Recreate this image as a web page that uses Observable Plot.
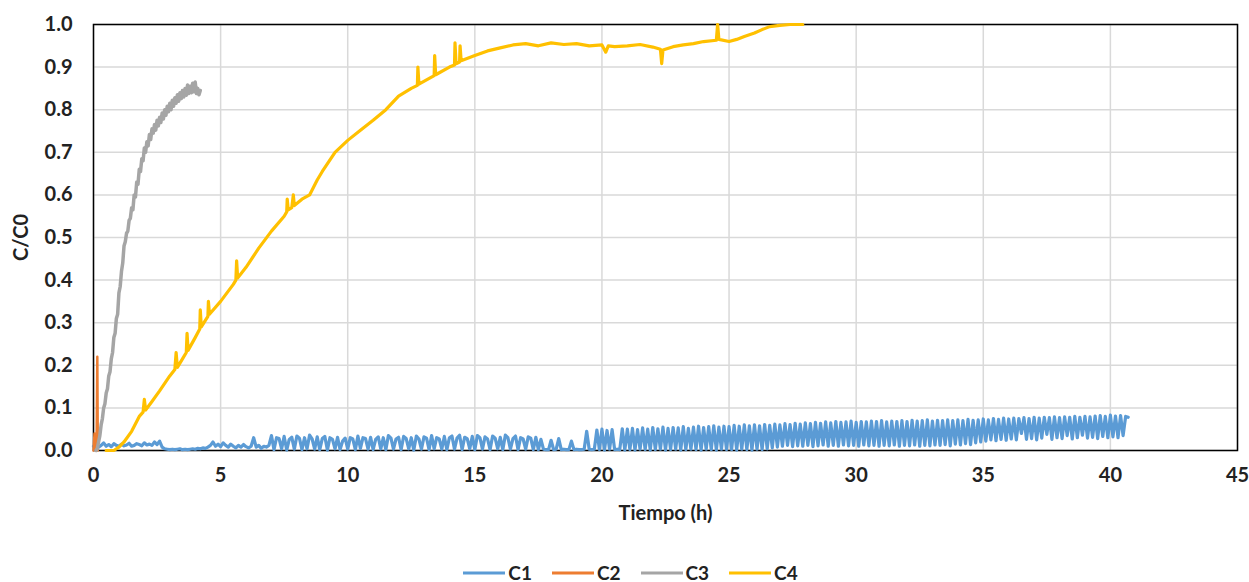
<!DOCTYPE html>
<html>
<head>
<meta charset="utf-8">
<script src="https://cdn.jsdelivr.net/npm/d3@7"></script>
<script src="https://cdn.jsdelivr.net/npm/@observablehq/plot@0.6"></script>
<style>
  html, body { margin: 0; background: #fff; font-family: Lato, "Open Sans", sans-serif; overflow: hidden; }
  #chart svg { display: block; }
  #legend { display: flex; justify-content: center; align-items: center; height: 18px; line-height: 18px; margin-top: 14px; padding-left: 12px; font-weight: bold; font-size: 19px; color: #222; }
  .item { display: flex; align-items: center; margin: 0 10px; }
  .item svg { margin-right: 3px; }
</style>
</head>
<body>
<div id="chart"></div>
<div id="legend"></div>
<script>
const seriesNames = ["C1", "C2", "C3", "C4"];
const seriesColors = ["#5B9BD5", "#ED7D31", "#A5A5A5", "#FFC000"];
const xTicks = [0, 5, 10, 15, 20, 25, 30, 35, 40, 45];
const yTicks = [0, 0.1, 0.2, 0.3, 0.4, 0.5, 0.6, 0.7, 0.8, 0.9, 1.0];

// C1: sampled every 0.1 h from 0 h
const c1Start = 0, c1Step = 0.1;
const c1Values = [
  0.01,0.015,0.008,0.012,0.018,0.01,0.014,0.009,0.016,0.012,
  0.01,0.015,0.011,0.013,0.017,0.01,0.012,0.016,0.014,0.011,
  0.018,0.013,0.015,0.012,0.02,0.014,
  0.022,0.008,0.004,0.003,0.002,0.003,0.002,0.003,0.004,0.002,0.003,0.002,0.003,0.004,0.003,0.005,0.004,0.006,0.005,
  0.008,0.012,0.02,0.01,0.015,
  0.009,0.018,0.012,0.008,0.015,0.01,0.006,0.012,0.008,0.014,
  0.009,0.006,0.01,0.03,0.008,0.012,0.005,0.01,0.008,0.012,
  0.035,0.002,0.03,0.028,0.004,0.033,0.001,0.026,0.031,0.003,
  0.034,0.029,0.002,0.03,0.004,0.036,0.027,0.003,0.032,0.002,
  0.028,0.033,0.001,0.03,0.026,0.004,0.031,0.002,0.022,0.029,
  0.003,0.03,0.027,0.002,0.034,0.005,0.03,0.028,0.003,0.031,
  0.002,0.026,0.032,0.004,0.03,0.002,0.035,0.029,0.003,0.027,
  0.031,0.002,0.033,0.028,0.004,0.03,0.001,0.034,0.027,0.003,
  0.032,0.029,0.002,0.035,0.004,0.03,0.027,0.003,0.033,0.002,
  0.03,0.034,0.003,0.029,0.036,0.002,0.031,0.028,0.004,0.033,
  0.002,0.035,0.03,0.003,0.032,0.027,0.002,0.034,0.029,0.004,
  0.031,0.002,0.036,0.03,0.003,0.028,0.034,0.002,0.03,0.027,
  0.003,0.032,0.029,0.002,0.031,
  0.002,0.026,0.003,0.002,0.002,
  0.024,0.002,0.003,0.028,0.002,0.003,0.002,0.002,0.022,0.002,
  0.003,0.002,0.002,0.003,0.045,0.003,0.002,0.003,
  0.048,0.002,
  0.05,0.001,0.047,0.003,0.049,0.002,0.003,0.002,0.051,0.001,
  0.05,0.002,0.052,0.001,0.049,0.003,0.053,0.002,0.05,0.001,
  0.054,0.002,0.051,0.003,0.055,0.001,0.052,0.002,0.054,0.003,
  0.053,0.001,0.056,0.002,0.052,0.003,0.055,0.002,0.057,0.001,
  0.054,0.003,0.056,0.002,0.058,0.001,0.055,0.003,0.057,0.002,
  0.056,0.002,0.059,0.001,0.057,0.003,0.06,0.002,0.058,0.001,
  0.06,0.003,0.058,0.002,0.061,0.004,0.059,0.006,0.062,0.008,
  0.06,0.01,0.063,0.012,0.061,0.009,0.064,0.011,0.062,0.01,
  0.065,0.012,0.063,0.009,0.066,0.011,0.064,0.013,0.067,0.01,
  0.065,0.012,0.068,0.01,0.066,0.013,0.067,0.011,0.069,0.012,
  0.066,0.01,0.068,0.013,0.067,0.011,0.069,0.012,0.068,0.01,
  0.07,0.012,0.067,0.011,0.069,0.013,0.068,0.01,0.07,0.012,
  0.068,0.011,0.071,0.013,0.069,0.01,0.07,0.012,0.072,0.011,
  0.069,0.013,0.071,0.012,0.07,0.014,0.072,0.011,0.07,0.015,
  0.072,0.013,0.07,0.016,0.073,0.014,0.071,0.018,0.072,0.02,
  0.074,0.022,0.072,0.025,0.075,0.023,0.073,0.026,0.076,0.024,
  0.074,0.027,0.076,0.025,0.075,0.04,0.077,0.026,0.075,0.028,
  0.078,0.025,0.076,0.029,0.078,0.038,0.077,0.026,0.079,0.03,
  0.077,0.028,0.079,0.035,0.078,0.027,0.08,0.03,0.078,0.036,
  0.08,0.029,0.079,0.031,0.081,0.028,0.082,0.033,0.08,0.03,
  0.083,0.032,0.081,0.03,0.082,0.035,0.08,0.078
];

// C2: short initial spike
const c2Time  = [0, 0.04, 0.08, 0.12, 0.15, 0.17];
const c2Value = [0.0, 0.04, 0.01, 0.0, 0.22, 0.0];

// C3: sampled every 0.05 h from 0.1 h
const c3Start = 0.1, c3Step = 0.05;
const c3Values = [
  0.0,0.005,0.02,0.035,0.06,0.075,0.1,0.11,0.135,0.145,
  0.175,0.185,0.215,0.23,0.265,0.275,0.31,0.32,0.37,0.385,
  0.42,0.44,0.48,0.49,0.51,0.515,0.54,0.545,0.57,0.565,
  0.6,0.595,0.63,0.625,0.66,0.655,0.685,0.68,0.71,0.7,
  0.725,0.715,0.742,0.73,0.755,0.745,0.765,0.752,0.775,0.762,
  0.782,0.77,0.792,0.778,0.8,0.787,0.808,0.795,0.815,0.8,
  0.822,0.808,0.828,0.815,0.835,0.82,0.84,0.826,0.845,0.83,
  0.85,0.834,0.858,0.838,0.855,0.84,0.862,0.842,0.865,0.838,
  0.85,0.835,0.845
];

// C4
const c4Time = [
  0.5,0.8,1.0,1.2,1.5,1.8,1.95,2.0,2.05,2.3,2.6,3.0,3.2,3.25,3.3,3.5,3.65,3.68,3.72,4.0,
  4.18,4.2,4.24,4.5,4.52,4.56,5.0,5.5,5.6,5.63,5.67,6.0,6.5,7.0,7.5,7.6,7.62,7.66,7.8,7.86,
  7.9,8.2,8.5,8.8,9.0,9.5,10.0,10.5,11.0,11.5,12.0,12.5,12.74,12.76,12.8,13.4,13.42,13.46,14.0,14.2,
  14.22,14.26,14.4,14.42,14.46,15.0,15.5,16.0,16.5,17.0,17.5,18.0,18.5,19.0,19.5,20.0,20.15,20.25,20.5,21.0,
  21.5,22.0,22.3,22.35,22.4,22.8,23.2,23.6,24.0,24.5,24.55,24.6,25.0,25.3,25.6,26.0,26.3,26.6,27.0,27.4,27.9
];
const c4Value = [
  0.0,0.0,0.008,0.02,0.045,0.08,0.09,0.12,0.095,0.115,0.14,0.175,0.19,0.23,0.195,0.215,0.23,0.275,0.235,0.265,
  0.285,0.33,0.29,0.315,0.35,0.32,0.35,0.39,0.4,0.445,0.405,0.43,0.475,0.515,0.55,0.56,0.59,0.565,0.57,0.6,
  0.575,0.59,0.6,0.635,0.655,0.7,0.728,0.752,0.775,0.8,0.832,0.85,0.857,0.9,0.86,0.88,0.927,0.882,0.9,0.905,
  0.957,0.908,0.912,0.95,0.915,0.927,0.938,0.945,0.952,0.955,0.95,0.957,0.953,0.955,0.95,0.952,0.935,0.95,0.948,0.95,
  0.953,0.947,0.942,0.908,0.94,0.948,0.952,0.955,0.96,0.963,1.0,0.965,0.96,0.965,0.972,0.98,0.988,0.995,0.998,1.0,1.0
];

const rows = [
  ...c1Values.map((v, i) => ({series: "C1", t: +(c1Start + i * c1Step).toFixed(3), v})),
  ...c2Value.map((v, i) => ({series: "C2", t: c2Time[i], v})),
  ...c3Values.map((v, i) => ({series: "C3", t: +(c3Start + i * c3Step).toFixed(3), v})),
  ...c4Value.map((v, i) => ({series: "C4", t: c4Time[i], v}))
];

const widths = {C1: 3.2, C2: 2.5, C3: 3.5, C4: 3.2};

const chart = Plot.plot({
  width: 1249,
  height: 550,
  marginLeft: 93,
  marginRight: 12,
  marginTop: 24,
  marginBottom: 100,
  style: {fontFamily: "Lato, 'Open Sans', sans-serif", fontSize: "20px", fontWeight: "bold", color: "#222", background: "#fff"},
  x: {domain: [0, 45]},
  y: {domain: [0, 1]},
  color: {domain: seriesNames, range: seriesColors},
  marks: [
    Plot.gridX(xTicks, {stroke: "#d9d9d9", strokeOpacity: 1, strokeWidth: 1.5}),
    Plot.gridY(yTicks, {stroke: "#d9d9d9", strokeOpacity: 1, strokeWidth: 1.5}),
    Plot.frame({stroke: "#000", strokeWidth: 1.5}),
    Plot.axisX(xTicks, {tickSize: 0, tickPadding: 17, tickFormat: d => String(d), label: "Tiempo (h)", labelAnchor: "center", labelArrow: "none", labelOffset: 69}),
    Plot.axisY(yTicks, {tickSize: 0, tickPadding: 21, tickFormat: d => d.toFixed(1), label: "C/C0", labelAnchor: "center", labelArrow: "none", labelOffset: 80}),
    ...seriesNames.map(s => Plot.line(rows.filter(r => r.series === s), {x: "t", y: "v", stroke: "series", strokeWidth: widths[s], strokeLinejoin: "round"}))
  ]
});
document.getElementById("chart").appendChild(chart);

const legend = document.getElementById("legend");
seriesNames.forEach((s, i) => {
  const item = document.createElement("div");
  item.className = "item";
  item.innerHTML = `<svg width="42" height="10"><line x1="0" y1="5" x2="42" y2="5" stroke="${seriesColors[i]}" stroke-width="3"/></svg><span>${s}</span>`;
  legend.appendChild(item);
});
</script>
</body>
</html>
